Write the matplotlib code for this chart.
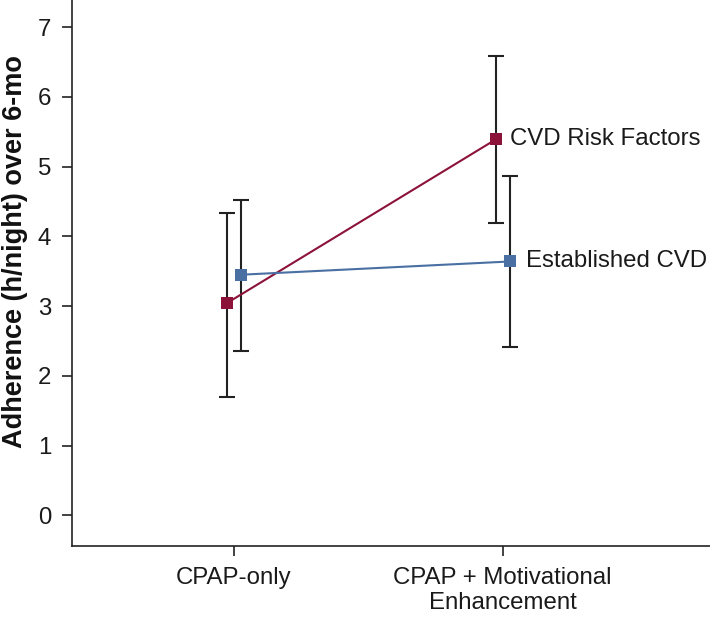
import matplotlib
matplotlib.use("Agg")
import matplotlib.pyplot as plt

plt.rcParams['font.family'] = ['Liberation Sans', 'DejaVu Sans']

categories = ["CPAP-only", "CPAP + Motivational\nEnhancement"]
series_names = ["CVD Risk Factors", "Established CVD"]
risk_mean = [3.04, 5.39]
risk_low = [1.69, 4.19]
risk_high = [4.34, 6.59]
est_mean = [3.45, 3.64]
est_low = [2.36, 2.41]
est_high = [4.52, 4.87]
yticks = [0, 1, 2, 3, 4, 5, 6, 7]

red = "#8C1239"
blue = "#4A6FA3"
errc = "#222222"

fig = plt.figure(figsize=(7.10, 6.17), dpi=100)
ax = fig.add_axes([72/710, 1 - 546/617, 1 - 72/710, 546/617])

off = 0.026
xs = [0, 1]
for mean, lo, hi, color, sign, name, dx in [
        (risk_mean, risk_low, risk_high, red, -1, series_names[0], 10),
        (est_mean, est_low, est_high, blue, 1, series_names[1], 12)]:
    xx = [x + sign * off for x in xs]
    yerr = [[m - l for m, l in zip(mean, lo)], [h - m for m, h in zip(mean, hi)]]
    ax.errorbar(xx, mean, yerr=yerr, fmt='none', ecolor=errc, elinewidth=1.5,
                capsize=5.5, capthick=1.5, zorder=2)
    ax.plot(xx, mean, color=color, lw=1.5, marker='s', markersize=8,
            markeredgewidth=0, zorder=3)
    ax.annotate(name, (xx[1], mean[1]), xytext=(dx, 0), textcoords='offset points',
                ha='left', va='center', fontsize=17.3, color='#1a1a1a')

ax.set_xlim(-0.60, 1.77)
ax.set_ylim(-0.44, 7.39)
ax.set_xticks(xs)
ax.set_xticklabels(categories, fontsize=17.3, color='#1a1a1a', linespacing=1.2)
ax.set_yticks(yticks)
ax.set_yticklabels([str(t) for t in yticks], fontsize=17.3, color='#1a1a1a')
fig.text(15/710, 1 - 252/617, "Adherence (h/night) over 6-mo", rotation=90,
         ha='center', va='center', fontsize=19.5, fontweight='bold', color='#111111')
ax.tick_params(direction='out', length=7, width=1.2, color='#222222', pad=8)
for s in ['top', 'right']:
    ax.spines[s].set_visible(False)
for s in ['left', 'bottom']:
    ax.spines[s].set_linewidth(1.2)
    ax.spines[s].set_color('#222222')

fig.savefig("out.png", dpi=100)
